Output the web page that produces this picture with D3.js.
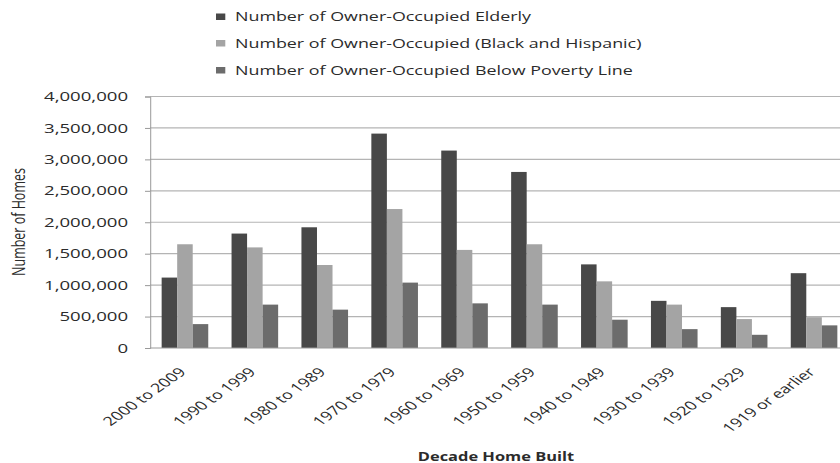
<!DOCTYPE html>
<html><head><meta charset="utf-8">
<script src="https://cdn.jsdelivr.net/npm/d3@7"></script>
<style>body{margin:0;background:#fff}svg{display:block}</style>
</head><body>
<script>
const categories = ["2000 to 2009","1990 to 1999","1980 to 1989","1970 to 1979","1960 to 1969","1950 to 1959","1940 to 1949","1930 to 1939","1920 to 1929","1919 or earlier"];
const seriesNames = ["Number of Owner-Occupied Elderly","Number of Owner-Occupied (Black and Hispanic)","Number of Owner-Occupied Below Poverty Line"];
const elderly = [1120000,1820000,1920000,3410000,3140000,2800000,1330000,750000,650000,1190000];
const blackHispanic = [1650000,1600000,1320000,2210000,1560000,1650000,1060000,690000,460000,490000];
const belowPoverty = [380000,690000,610000,1040000,710000,690000,450000,300000,210000,360000];
const yTicks = [0,500000,1000000,1500000,2000000,2500000,3000000,3500000,4000000];
const colors = ["#484848","#a4a4a4","#6c6c6c"];
const yTitle = "Number of Homes";
const xTitle = "Decade Home Built";

const W = 840, H = 463, SX = 1.43;
const series = [elderly, blackHispanic, belowPoverty];
const rows = categories.map((c,i)=>({cat:c, vals: series.map(s=>s[i])}));

const svg = d3.select("body").append("svg").attr("width",W).attr("height",H);
const g = svg.append("g").attr("transform",`scale(${SX},1)`);
const font = "'Open Sans', sans-serif";
const textCol = "#2b2b2b";

const pLeft = 150/SX, pRight = 849/SX, pTop = 96.5, pBottom = 348;
const x = d3.scaleBand().domain(categories).range([pLeft,pRight]).paddingInner(0).paddingOuter(0);
const xs = d3.scaleBand().domain([0,1,2]).range([x.bandwidth()/6, x.bandwidth()*5/6]);
const y = d3.scaleLinear().domain([0,4000000]).range([pBottom,pTop]);

// gridlines
g.append("g").selectAll("line").data(yTicks.filter(t=>t>0)).join("line")
  .attr("x1",pLeft).attr("x2",pRight+10).attr("y1",d=>y(d)).attr("y2",d=>y(d))
  .attr("stroke","#b4b4b4").attr("stroke-width",1.2).attr("vector-effect","non-scaling-stroke");

// y axis
const yAxis = g.append("g").attr("transform",`translate(${pLeft},0)`)
  .call(d3.axisLeft(y).tickValues(yTicks).tickSize(5/SX).tickPadding(17/SX).tickFormat(d3.format(",")));
yAxis.select(".domain").attr("stroke","#999").attr("vector-effect","non-scaling-stroke");
yAxis.selectAll(".tick line").attr("stroke","#999").attr("vector-effect","non-scaling-stroke");
yAxis.selectAll(".tick text").attr("font-family",font).attr("font-size",13).attr("fill",textCol);

// bars
g.append("g").selectAll("g").data(rows).join("g")
  .attr("transform",d=>`translate(${x(d.cat)},0)`)
  .selectAll("rect").data(d=>d.vals.map((v,i)=>({v,i}))).join("rect")
  .attr("x",d=>xs(d.i)).attr("width",xs.bandwidth())
  .attr("y",d=>y(d.v)).attr("height",d=>y(0)-y(d.v))
  .attr("fill",d=>colors[d.i]);

// x axis baseline
g.append("line").attr("x1",pLeft).attr("x2",pRight+10).attr("y1",pBottom).attr("y2",pBottom)
  .attr("stroke","#999").attr("stroke-width",1.2).attr("vector-effect","non-scaling-stroke");

// x labels
g.append("g").selectAll("text").data(categories).join("text")
  .attr("transform",d=>`translate(${x(d)+x.bandwidth()/2+1.4},${pBottom+25}) rotate(-45)`)
  .attr("text-anchor","end").attr("font-family",font).attr("font-size",12.5).attr("fill",textCol)
  .text(d=>d);

// x title
g.append("text").attr("x",496/SX).attr("y",461).attr("text-anchor","middle")
  .attr("font-family",font).attr("font-weight","bold").attr("font-size",11.5).attr("fill",textCol).text(xTitle);

// y title
g.append("text").attr("transform",`translate(${25/SX},222) rotate(-90)`).attr("text-anchor","middle")
  .attr("font-family",font).attr("font-size",12.5).attr("fill",textCol).text(yTitle);

// legend
const leg = g.append("g").selectAll("g").data(seriesNames).join("g")
  .attr("transform",(d,i)=>`translate(${216/SX},${[16.5,43,70][i]})`);
leg.append("rect").attr("x",0).attr("y",-3).attr("width",6.5).attr("height",6.5).attr("fill",(d,i)=>colors[i]);
leg.append("text").attr("x",(235-216)/SX).attr("y",4.5).attr("font-family",font).attr("font-size",12.5)
  .attr("fill",textCol).text(d=>d);
</script>
</body></html>
